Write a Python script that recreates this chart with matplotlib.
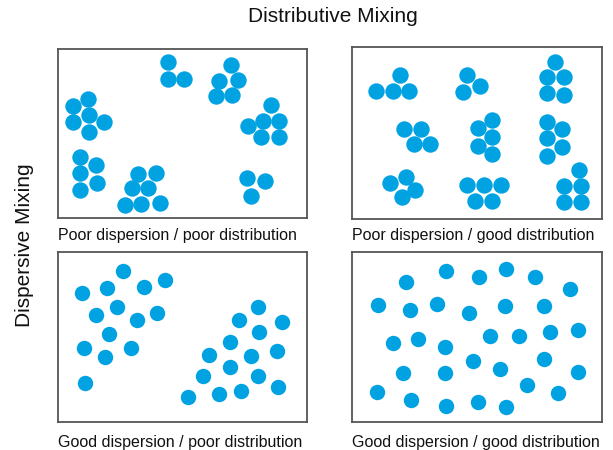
import matplotlib.pyplot as plt

# particle centres for each panel, in panel units (x right, y down)
poor_poor_x = [110, 110, 126, 173, 161, 180, 158, 174, 213, 205, 221, 190, 203, 221,
               30, 15, 31, 15, 46, 31, 22, 38, 22, 39, 22, 80, 98, 74, 90, 67, 83, 102,
               189, 207, 193]
poor_poor_y = [13, 30, 30, 16, 32, 31, 47, 46, 56, 72, 72, 77, 88, 88,
               50, 57, 66, 73, 73, 83, 108, 116, 124, 134, 141, 125, 124, 139, 139, 156, 155, 154,
               129, 132, 147]

poor_good_x = [48, 24, 41, 57, 115, 128, 111, 203, 195, 212, 195, 212,
               52, 69, 62, 78, 140, 126, 140, 126, 140, 195, 210, 195, 210, 195,
               54, 38, 63, 50, 115, 132, 149, 123, 140, 227, 212, 229, 212, 229]
poor_good_y = [28, 44, 44, 44, 28, 39, 45, 15, 30, 30, 46, 48,
               82, 82, 97, 97, 73, 81, 90, 99, 107, 75, 82, 91, 100, 109,
               130, 136, 143, 150, 138, 138, 138, 154, 154, 123, 139, 139, 155, 155]

good_poor_x = [65, 107, 24, 49, 86, 59, 38, 79, 99, 51, 26, 73, 47, 27,
               200, 181, 224, 201, 172, 219, 151, 193, 172, 145, 200, 220, 130, 161, 183]
good_poor_y = [19, 28, 41, 36, 35, 55, 63, 68, 61, 82, 96, 96, 105, 131,
               55, 68, 70, 80, 90, 99, 103, 104, 115, 124, 124, 135, 145, 142, 139]

good_good_x = [94, 154, 127, 183, 54, 218, 26, 58, 85, 117, 153, 192,
               41, 66, 93, 138, 167, 198, 226, 121, 148, 192, 51, 93, 226,
               25, 175, 206, 59, 94, 126, 154]
good_good_y = [19, 17, 25, 25, 30, 37, 53, 58, 52, 61, 54, 54,
               91, 87, 95, 84, 84, 80, 78, 109, 117, 107, 121, 121, 120,
               140, 133, 141, 148, 154, 150, 155]

labels = ['Poor dispersion / poor distribution',
          'Poor dispersion / good distribution',
          'Good dispersion / poor distribution',
          'Good dispersion / good distribution']

blue = '#00a2e2'
W, H = 613, 450

# panel boxes in pixels: left, top, right, bottom
boxes = [(58, 49, 307, 218), (352, 47, 602, 219), (58, 252, 307, 422), (352, 252, 602, 422)]
panels = [(poor_poor_x, poor_poor_y, 8.2), (poor_good_x, poor_good_y, 8.2),
          (good_poor_x, good_poor_y, 7.7), (good_good_x, good_good_y, 7.7)]
label_y = [235, 235, 442, 442]

fig = plt.figure(figsize=(W / 100, H / 100), dpi=100)

for (l, t, r, b), (xs, ys, rad), lab, ly in zip(boxes, panels, labels, label_y):
    ax = fig.add_axes([l / W, 1 - b / H, (r - l) / W, (b - t) / H])
    ax.set_xlim(0, r - l)
    ax.set_ylim(b - t, 0)
    size = (2 * rad * 72 / 100) ** 2
    ax.scatter(xs, ys, s=size, color=blue, linewidths=0)
    ax.set_xticks([])
    ax.set_yticks([])
    for sp in ax.spines.values():
        sp.set_color('#555555')
        sp.set_linewidth(1.3)
    fig.text(l / W, 1 - ly / H, lab, ha='left', va='center',
             fontsize=11.5, family='Liberation Sans', color='#111111')

fig.text(333 / W, 1 - 17 / H, 'Distributive Mixing', ha='center', va='center',
         fontsize=15, family='Liberation Sans', color='#111111')
fig.text(25 / W, 1 - 245 / H, 'Dispersive Mixing', ha='center', va='center',
         rotation=90, fontsize=15, family='Liberation Sans', color='#111111')

fig.savefig('out.png', dpi=100)
